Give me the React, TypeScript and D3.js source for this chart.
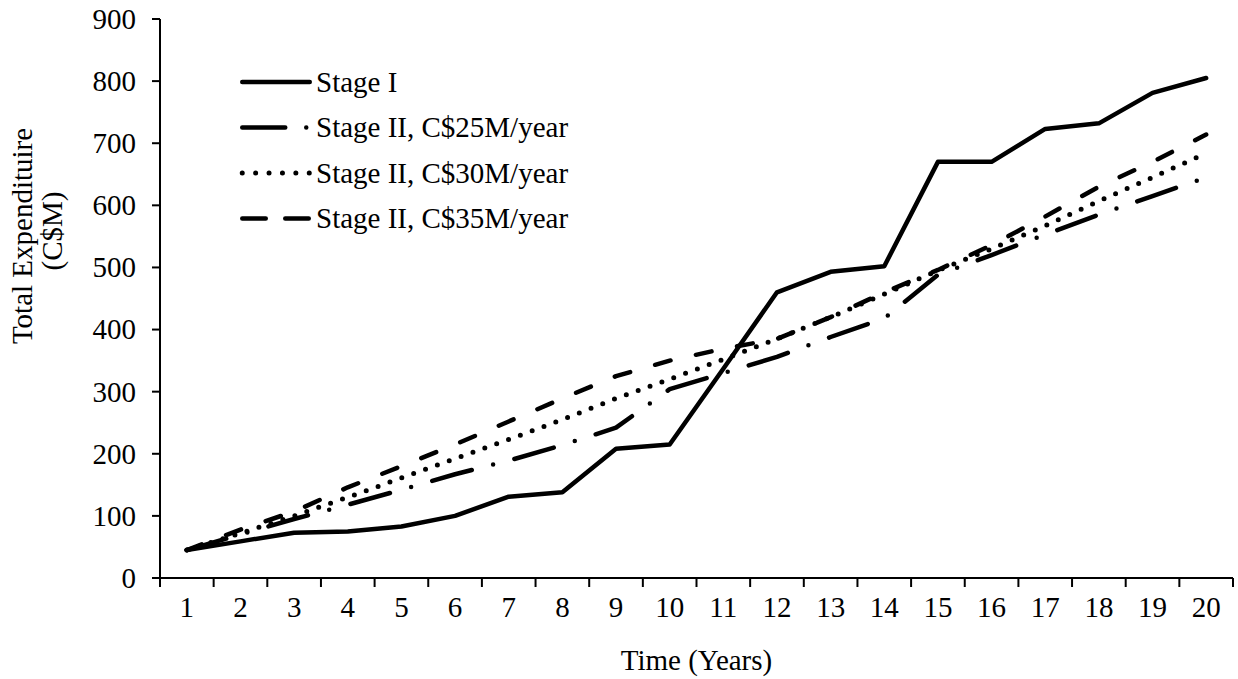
import React from "react";
import * as d3 from "d3";

const categories = ["1","2","3","4","5","6","7","8","9","10","11","12","13","14","15","16","17","18","19","20"];
const stageI = [45, 59, 73, 75, 83, 100, 131, 138, 208, 215, 337, 460, 493, 502, 670, 670, 723, 732, 781, 805];
const stageII25 = [45, 70, 95, 118, 142, 167, 189, 214, 242, 304, 330, 356, 388, 418, 488, 520, 553, 585, 615, 645];
const stageII30 = [45, 72, 100, 130, 161, 192, 223, 255, 289, 320, 352, 385, 420, 457, 495, 530, 567, 607, 645, 684];
const stageII35 = [45, 78, 107, 146, 180, 215, 252, 289, 325, 350, 369, 385, 420, 460, 496, 536, 582, 630, 670, 714];
const yTicks = [0, 100, 200, 300, 400, 500, 600, 700, 800, 900];
const seriesNames = ["Stage I", "Stage II, C$25M/year", "Stage II, C$30M/year", "Stage II, C$35M/year"];

const FONT = "'Liberation Serif', 'Times New Roman', serif";
const FS = 29;

const seriesStyles = [
  { dash: null, legendDash: null, width: 4.5 },
  { dash: "41 22 0 22", legendDash: "43 21 0 21", width: 4.5 },
  { dash: "0 12.6", legendDash: "0 13.4", width: 5 },
  { dash: "16 26", legendDash: "23.5 19.5", width: 4.5 },
];

export default function App() {
  const W = 1238, H = 679;
  const left = 160, right = 1233, top = 19, bottom = 578;
  const x = d3.scaleBand<string>().domain(categories).range([left, right]).padding(0);
  const y = d3.scaleLinear().domain([0, 900]).range([bottom, top]);
  const bw = x.bandwidth();
  const data = [stageI, stageII25, stageII30, stageII35];
  const line = d3.line<number>()
    .x((_, i) => (x(categories[i]) as number) + bw / 2)
    .y((v) => y(v));
  const boundaries = d3.range(categories.length + 1).map((k) => left + k * bw);

  const legendX0 = 240, legendX1 = 312, legendText = 316;
  const legendRows = [82, 127.5, 173, 218.5];

  return (
    <svg width={W} height={H} style={{ position: "absolute", left: 0, top: 0, background: "#fff" }}
      fontFamily={FONT}>
      <rect x={0} y={0} width={W} height={H} fill="#fff" />
      {/* y axis */}
      <line x1={left} x2={left} y1={top} y2={bottom} stroke="#000" strokeWidth={2} />
      {yTicks.map((t) => (
        <g key={t}>
          <line x1={left - 8} x2={left} y1={y(t)} y2={y(t)} stroke="#000" strokeWidth={2} />
          <text x={136} y={y(t)} dy="0.34em" textAnchor="end" fontSize={FS}>{t}</text>
        </g>
      ))}
      {/* x axis */}
      <line x1={left} x2={right} y1={bottom} y2={bottom} stroke="#000" strokeWidth={2} />
      {boundaries.map((b, k) => (
        <line key={k} x1={b} x2={b} y1={bottom} y2={bottom + 9} stroke="#000" strokeWidth={2} />
      ))}
      {categories.map((c) => (
        <text key={c} x={(x(c) as number) + bw / 2} y={617} textAnchor="middle" fontSize={FS}>{c}</text>
      ))}
      <text x={(left + right) / 2} y={670} textAnchor="middle" fontSize={FS}>Time (Years)</text>
      <text transform={`translate(32,236) rotate(-90)`} textAnchor="middle" fontSize={FS}>Total Expendituire</text>
      <text transform={`translate(62,231) rotate(-90)`} textAnchor="middle" fontSize={FS}>(C$M)</text>

      {/* series */}
      {data.map((d, i) => (
        <path key={i} d={line(d) as string} fill="none" stroke="#000"
          strokeWidth={seriesStyles[i].width}
          strokeDasharray={seriesStyles[i].dash ?? undefined}
          strokeLinecap="round" strokeLinejoin="round" />
      ))}

      {/* legend */}
      {seriesNames.map((n, i) => (
        <g key={n}>
          <line x1={legendX0 + 2.25} x2={legendX1 - 2.25} y1={legendRows[i]} y2={legendRows[i]}
            stroke="#000" strokeWidth={seriesStyles[i].width}
            strokeDasharray={seriesStyles[i].legendDash ?? undefined} strokeLinecap="round" />
          <text x={legendText} y={legendRows[i]} dy="0.33em" fontSize={FS}>{n}</text>
        </g>
      ))}
    </svg>
  );
}
